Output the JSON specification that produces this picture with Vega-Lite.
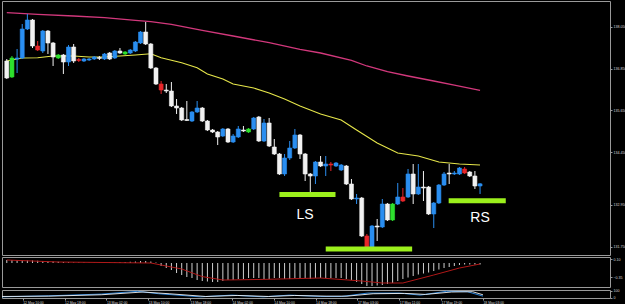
{
  "$schema": "https://vega.github.io/schema/vega-lite/v6.json",
  "background": "#000000",
  "padding": {"left": 1, "top": 0, "right": 0, "bottom": 0},
  "spacing": 0,
  "config": {
    "view": {"stroke": "#9a9a9a", "strokeWidth": 1},
    "axis": {"labelFont": "Liberation Sans", "labelColor": "#d8d8d8", "tickColor": "#9a9a9a", "domain": false, "grid": false, "title": null},
    "text": {"font": "Liberation Sans"}
  },
  "datasets": {
    "candles": [
      {"i":0,"o":137.066,"h":137.123,"l":136.550,"c":136.579,"k":"down"},
      {"i":1,"o":136.608,"h":137.209,"l":136.579,"c":137.152,"k":"green"},
      {"i":2,"o":137.123,"h":137.410,"l":136.722,"c":137.152,"k":"up"},
      {"i":3,"o":137.152,"h":138.126,"l":137.123,"c":137.983,"k":"up"},
      {"i":4,"o":137.983,"h":138.413,"l":137.954,"c":138.241,"k":"up"},
      {"i":5,"o":138.241,"h":138.269,"l":137.438,"c":137.496,"k":"down"},
      {"i":6,"o":137.496,"h":137.639,"l":137.352,"c":137.381,"k":"red"},
      {"i":7,"o":137.352,"h":137.954,"l":137.295,"c":137.925,"k":"up"},
      {"i":8,"o":137.925,"h":137.954,"l":137.267,"c":137.582,"k":"down"},
      {"i":9,"o":137.582,"h":137.610,"l":136.923,"c":137.181,"k":"down"},
      {"i":10,"o":137.152,"h":137.267,"l":137.123,"c":137.238,"k":"green"},
      {"i":11,"o":137.238,"h":137.267,"l":136.694,"c":137.037,"k":"down"},
      {"i":12,"o":137.037,"h":137.524,"l":136.923,"c":137.467,"k":"up"},
      {"i":13,"o":137.467,"h":137.553,"l":137.009,"c":137.066,"k":"down"},
      {"i":14,"o":137.109,"h":137.152,"l":137.037,"c":137.080,"k":"red"},
      {"i":15,"o":137.066,"h":137.152,"l":137.037,"c":137.123,"k":"up"},
      {"i":16,"o":137.095,"h":137.152,"l":137.066,"c":137.123,"k":"up"},
      {"i":17,"o":137.123,"h":137.209,"l":137.095,"c":137.181,"k":"up"},
      {"i":18,"o":137.166,"h":137.209,"l":137.095,"c":137.138,"k":"down"},
      {"i":19,"o":137.123,"h":137.295,"l":137.095,"c":137.267,"k":"up"},
      {"i":20,"o":137.295,"h":137.324,"l":137.095,"c":137.123,"k":"down"},
      {"i":21,"o":137.152,"h":137.381,"l":137.123,"c":137.352,"k":"up"},
      {"i":22,"o":137.352,"h":137.438,"l":137.267,"c":137.295,"k":"down"},
      {"i":23,"o":137.267,"h":137.352,"l":137.238,"c":137.324,"k":"green"},
      {"i":24,"o":137.295,"h":137.410,"l":137.267,"c":137.381,"k":"up"},
      {"i":25,"o":137.352,"h":137.639,"l":137.324,"c":137.610,"k":"up"},
      {"i":26,"o":137.582,"h":137.925,"l":137.553,"c":137.897,"k":"up"},
      {"i":27,"o":137.897,"h":138.183,"l":137.524,"c":137.553,"k":"down"},
      {"i":28,"o":137.553,"h":137.582,"l":136.837,"c":136.865,"k":"down"},
      {"i":29,"o":136.865,"h":136.894,"l":136.378,"c":136.407,"k":"down"},
      {"i":30,"o":136.407,"h":136.493,"l":136.121,"c":136.235,"k":"red"},
      {"i":31,"o":136.235,"h":136.407,"l":136.149,"c":136.206,"k":"down"},
      {"i":32,"o":136.206,"h":136.464,"l":135.748,"c":135.777,"k":"down"},
      {"i":33,"o":135.777,"h":135.977,"l":135.548,"c":135.719,"k":"down"},
      {"i":34,"o":135.719,"h":135.748,"l":135.347,"c":135.376,"k":"down"},
      {"i":35,"o":135.390,"h":135.920,"l":135.347,"c":135.361,"k":"down"},
      {"i":36,"o":135.347,"h":135.633,"l":135.318,"c":135.605,"k":"up"},
      {"i":37,"o":135.605,"h":135.920,"l":135.576,"c":135.719,"k":"up"},
      {"i":38,"o":135.719,"h":135.748,"l":135.318,"c":135.347,"k":"down"},
      {"i":39,"o":135.347,"h":135.376,"l":135.060,"c":135.089,"k":"down"},
      {"i":40,"o":135.089,"h":135.118,"l":135.003,"c":135.032,"k":"down"},
      {"i":41,"o":135.032,"h":135.060,"l":134.659,"c":134.889,"k":"down"},
      {"i":42,"o":134.917,"h":135.146,"l":134.889,"c":135.118,"k":"up"},
      {"i":43,"o":135.118,"h":135.146,"l":134.717,"c":134.745,"k":"down"},
      {"i":44,"o":134.745,"h":134.975,"l":134.717,"c":134.917,"k":"up"},
      {"i":45,"o":134.889,"h":135.204,"l":134.860,"c":135.118,"k":"up"},
      {"i":46,"o":135.089,"h":135.204,"l":135.032,"c":135.060,"k":"down"},
      {"i":47,"o":135.032,"h":135.146,"l":135.003,"c":135.118,"k":"green"},
      {"i":48,"o":135.118,"h":135.462,"l":135.089,"c":135.433,"k":"up"},
      {"i":49,"o":135.462,"h":135.490,"l":134.745,"c":134.774,"k":"down"},
      {"i":50,"o":134.774,"h":135.404,"l":134.745,"c":135.290,"k":"up"},
      {"i":51,"o":135.290,"h":135.433,"l":134.602,"c":134.631,"k":"down"},
      {"i":52,"o":134.602,"h":134.831,"l":134.373,"c":134.402,"k":"down"},
      {"i":53,"o":134.402,"h":134.430,"l":133.800,"c":133.829,"k":"down"},
      {"i":54,"o":133.829,"h":134.402,"l":133.771,"c":134.287,"k":"up"},
      {"i":55,"o":134.287,"h":134.774,"l":134.230,"c":134.573,"k":"up"},
      {"i":56,"o":134.573,"h":135.118,"l":134.545,"c":134.946,"k":"up"},
      {"i":57,"o":134.946,"h":134.975,"l":134.258,"c":134.402,"k":"down"},
      {"i":58,"o":134.402,"h":134.430,"l":133.628,"c":133.829,"k":"down"},
      {"i":59,"o":133.829,"h":133.857,"l":133.284,"c":133.771,"k":"down"},
      {"i":60,"o":133.771,"h":134.201,"l":133.542,"c":134.172,"k":"up"},
      {"i":61,"o":134.172,"h":134.344,"l":134.029,"c":134.058,"k":"down"},
      {"i":62,"o":134.058,"h":134.344,"l":133.771,"c":134.115,"k":"up"},
      {"i":63,"o":134.115,"h":134.172,"l":133.914,"c":134.086,"k":"red"},
      {"i":64,"o":134.058,"h":134.172,"l":134.029,"c":134.144,"k":"up"},
      {"i":65,"o":133.943,"h":134.115,"l":133.914,"c":134.086,"k":"up"},
      {"i":66,"o":134.058,"h":134.086,"l":133.513,"c":133.542,"k":"down"},
      {"i":67,"o":133.542,"h":133.685,"l":133.084,"c":133.112,"k":"down"},
      {"i":68,"o":133.112,"h":133.256,"l":132.969,"c":133.141,"k":"up"},
      {"i":69,"o":133.141,"h":133.170,"l":132.024,"c":132.052,"k":"down"},
      {"i":70,"o":132.052,"h":132.110,"l":131.680,"c":131.708,"k":"red"},
      {"i":71,"o":131.708,"h":132.367,"l":131.680,"c":132.339,"k":"up"},
      {"i":72,"o":132.339,"h":132.539,"l":131.909,"c":132.310,"k":"down"},
      {"i":73,"o":132.310,"h":133.112,"l":132.281,"c":132.969,"k":"up"},
      {"i":74,"o":132.969,"h":132.998,"l":132.482,"c":132.511,"k":"down"},
      {"i":75,"o":132.511,"h":132.998,"l":132.482,"c":132.969,"k":"green"},
      {"i":76,"o":132.969,"h":133.571,"l":132.940,"c":133.170,"k":"up"},
      {"i":77,"o":133.170,"h":133.427,"l":133.026,"c":133.055,"k":"red"},
      {"i":78,"o":133.170,"h":133.972,"l":133.141,"c":133.829,"k":"up"},
      {"i":79,"o":133.829,"h":134.115,"l":132.969,"c":133.256,"k":"down"},
      {"i":80,"o":133.256,"h":134.115,"l":133.227,"c":133.456,"k":"up"},
      {"i":81,"o":133.456,"h":133.914,"l":133.055,"c":133.427,"k":"down"},
      {"i":82,"o":133.456,"h":133.485,"l":132.654,"c":132.683,"k":"down"},
      {"i":83,"o":132.683,"h":133.026,"l":132.281,"c":132.998,"k":"up"},
      {"i":84,"o":132.998,"h":133.542,"l":132.969,"c":133.513,"k":"up"},
      {"i":85,"o":133.513,"h":133.886,"l":133.485,"c":133.829,"k":"up"},
      {"i":86,"o":133.857,"h":134.115,"l":133.542,"c":133.829,"k":"down"},
      {"i":87,"o":133.829,"h":133.914,"l":133.800,"c":133.857,"k":"up"},
      {"i":88,"o":133.829,"h":134.029,"l":133.800,"c":134.000,"k":"up"},
      {"i":89,"o":133.972,"h":134.029,"l":133.829,"c":133.857,"k":"red"},
      {"i":90,"o":133.886,"h":133.914,"l":133.743,"c":133.771,"k":"down"},
      {"i":91,"o":133.771,"h":133.914,"l":133.399,"c":133.485,"k":"down"},
      {"i":92,"o":133.485,"h":133.571,"l":133.256,"c":133.547,"k":"up"}
    ],
    "emaFast": [
      {"i":0,"p":137.066},{"i":3,"p":137.152},{"i":6,"p":137.160},{"i":9,"p":137.209},{"i":13,"p":137.209},
      {"i":16,"p":137.181},{"i":19,"p":137.181},{"i":22,"p":137.209},{"i":25,"p":137.238},{"i":28,"p":137.275},
      {"i":30,"p":137.160},{"i":34,"p":137.017},{"i":37,"p":136.874},{"i":39,"p":136.694},{"i":42,"p":136.550},
      {"i":44,"p":136.407},{"i":48,"p":136.292},{"i":51,"p":136.149},{"i":54,"p":135.977},{"i":57,"p":135.777},
      {"i":61,"p":135.548},{"i":65,"p":135.376},{"i":68,"p":135.089},{"i":72,"p":134.717},{"i":76,"p":134.430},
      {"i":80,"p":134.344},{"i":84,"p":134.172},{"i":88,"p":134.115},{"i":92,"p":134.086}
    ],
    "emaSlow": [
      {"i":0,"p":138.450},{"i":6,"p":138.404},{"i":13,"p":138.355},{"i":19,"p":138.307},{"i":25,"p":138.232},
      {"i":28,"p":138.192},{"i":32,"p":138.117},{"i":38,"p":137.946},{"i":44,"p":137.782},{"i":51,"p":137.590},
      {"i":57,"p":137.401},{"i":61,"p":137.295},{"i":67,"p":137.086},{"i":70,"p":136.923},{"i":74,"p":136.759},
      {"i":78,"p":136.636},{"i":83,"p":136.493},{"i":87,"p":136.378},{"i":92,"p":136.227}
    ],
    "levels": [
      {"i":53.0,"i2":63.9,"p":133.241},
      {"i":62.0,"i2":78.8,"p":131.680},
      {"i":85.9,"i2":97.0,"p":133.064}
    ],
    "marks": [
      {"i":58.0,"p":132.64,"t":"LS"},
      {"i":92.0,"p":132.57,"t":"RS"}
    ],
    "macd": [
      {"i":0,"m":0.075},{"i":1,"m":0.075},{"i":2,"m":0.07},{"i":3,"m":0.07},{"i":4,"m":0.065},{"i":5,"m":0.06},{"i":6,"m":0.055},{"i":7,"m":0.05},{"i":8,"m":0.045},{"i":9,"m":0.04},
      {"i":10,"m":0.03},{"i":11,"m":0.025},{"i":12,"m":0.02},{"i":13,"m":0.015},{"i":14,"m":0.01},{"i":15,"m":0.01},{"i":16,"m":0.005},{"i":17,"m":0.005},{"i":18,"m":0.005},{"i":19,"m":0.01},
      {"i":20,"m":0.01},{"i":21,"m":0.015},{"i":22,"m":0.02},{"i":23,"m":0.025},{"i":24,"m":0.03},{"i":25,"m":0.04},{"i":26,"m":0.05},{"i":27,"m":0.05},{"i":28,"m":0.04},{"i":29,"m":0.01},
      {"i":30,"m":-0.075},{"i":31,"m":-0.125},{"i":32,"m":-0.175},{"i":33,"m":-0.25},{"i":34,"m":-0.3},{"i":35,"m":-0.35},{"i":36,"m":-0.375},{"i":37,"m":-0.425},{"i":38,"m":-0.45},{"i":39,"m":-0.46},
      {"i":40,"m":-0.475},{"i":41,"m":-0.475},{"i":42,"m":-0.45},{"i":43,"m":-0.425},{"i":44,"m":-0.425},{"i":45,"m":-0.4},{"i":46,"m":-0.4},{"i":47,"m":-0.375},{"i":48,"m":-0.375},{"i":49,"m":-0.375},
      {"i":50,"m":-0.4},{"i":51,"m":-0.4},{"i":52,"m":-0.375},{"i":53,"m":-0.375},{"i":54,"m":-0.4},{"i":55,"m":-0.4},{"i":56,"m":-0.375},{"i":57,"m":-0.375},{"i":58,"m":-0.375},{"i":59,"m":-0.4},
      {"i":60,"m":-0.375},{"i":61,"m":-0.375},{"i":62,"m":-0.375},{"i":63,"m":-0.375},{"i":64,"m":-0.375},{"i":65,"m":-0.375},{"i":66,"m":-0.4},{"i":67,"m":-0.425},{"i":68,"m":-0.475},{"i":69,"m":-0.525},
      {"i":70,"m":-0.575},{"i":71,"m":-0.575},{"i":72,"m":-0.5625},{"i":73,"m":-0.55},{"i":74,"m":-0.525},{"i":75,"m":-0.5},{"i":76,"m":-0.45},{"i":77,"m":-0.4},{"i":78,"m":-0.3625},{"i":79,"m":-0.325},
      {"i":80,"m":-0.2875},{"i":81,"m":-0.2625},{"i":82,"m":-0.2375},{"i":83,"m":-0.2},{"i":84,"m":-0.1625},{"i":85,"m":-0.125},{"i":86,"m":-0.1},{"i":87,"m":-0.075},{"i":88,"m":-0.05},{"i":89,"m":-0.04},
      {"i":90,"m":-0.04},{"i":91,"m":-0.035},{"i":92,"m":-0.035}
    ],
    "signal": [
      {"i":0,"s":0.075},{"i":10,"s":0.025},{"i":28,"s":0.0},{"i":34,"s":-0.15},{"i":38,"s":-0.34},{"i":42,"s":-0.425},
      {"i":50,"s":-0.41},{"i":61,"s":-0.375},{"i":69,"s":-0.45},{"i":73,"s":-0.5},{"i":77,"s":-0.5},{"i":83,"s":-0.3},
      {"i":88,"s":-0.125},{"i":92,"s":-0.025}
    ],
    "stoch": [
      {"i":0,"v":15,"line":"main"},{"i":9,"v":30,"line":"main"},{"i":19,"v":55,"line":"main"},{"i":26,"v":95,"line":"main"},{"i":30,"v":60,"line":"main"},{"i":38,"v":15,"line":"main"},
      {"i":44,"v":40,"line":"main"},{"i":50,"v":15,"line":"main"},{"i":55,"v":40,"line":"main"},{"i":61,"v":20,"line":"main"},{"i":65,"v":20,"line":"main"},{"i":70,"v":70,"line":"main"},
      {"i":76,"v":70,"line":"main"},{"i":80,"v":40,"line":"main"},{"i":85,"v":95,"line":"main"},{"i":89,"v":90,"line":"main"},{"i":92,"v":25,"line":"main"},
      {"i":0,"v":20,"line":"signal"},{"i":9,"v":25,"line":"signal"},{"i":19,"v":45,"line":"signal"},{"i":27,"v":85,"line":"signal"},{"i":32,"v":60,"line":"signal"},{"i":39,"v":20,"line":"signal"},
      {"i":45,"v":35,"line":"signal"},{"i":51,"v":20,"line":"signal"},{"i":56,"v":35,"line":"signal"},{"i":62,"v":25,"line":"signal"},{"i":66,"v":25,"line":"signal"},{"i":71,"v":60,"line":"signal"},
      {"i":77,"v":65,"line":"signal"},{"i":81,"v":50,"line":"signal"},{"i":86,"v":85,"line":"signal"},{"i":90,"v":90,"line":"signal"},{"i":92,"v":45,"line":"signal"}
    ]
  },
  "vconcat": [
    {
      "width": 608,
      "height": 254,
      "layer": [
        {
          "data": {"name": "emaSlow"},
          "mark": {"type": "line", "color": "#d2387c", "strokeWidth": 1.3, "clip": true},
          "encoding": {
            "x": {"field": "i", "type": "quantitative", "scale": {"domain": [0.04, 116.29], "nice": false, "zero": false}, "axis": null},
            "y": {"field": "p", "type": "quantitative", "scale": {"domain": [131.508, 138.785], "nice": false, "zero": false},
                  "axis": {"orient": "right", "values": [138.65,138.35,138.05,137.75,137.45,137.15,136.85,136.55,136.25,135.95,135.65,135.35,135.05,134.75,134.45,134.15,133.85,133.25,132.95,132.65,132.35,132.05,131.75],
                           "format": ".3f", "labelFontSize": 3.6, "tickSize": 2, "labelPadding": 1, "labelOverlap": false}}
          }
        },
        {
          "data": {"name": "emaFast"},
          "mark": {"type": "line", "color": "#e6e64a", "strokeWidth": 1.1, "clip": true},
          "encoding": {
            "x": {"field": "i", "type": "quantitative"},
            "y": {"field": "p", "type": "quantitative"}
          }
        },
        {
          "data": {"name": "candles"},
          "mark": {"type": "rule", "strokeWidth": 1, "clip": true},
          "encoding": {
            "x": {"field": "i", "type": "quantitative"},
            "y": {"field": "l", "type": "quantitative"},
            "y2": {"field": "h"},
            "color": {"field": "k", "type": "nominal", "scale": {"domain": ["up","down","red","green"], "range": ["#2a8ef0","#f2f2f2","#e8262a","#2ee02e"]}, "legend": null}
          }
        },
        {
          "data": {"name": "candles"},
          "mark": {"type": "bar", "size": 4, "strokeWidth": 0.6, "clip": true},
          "encoding": {
            "x": {"field": "i", "type": "quantitative"},
            "y": {"field": "o", "type": "quantitative"},
            "y2": {"field": "c"},
            "color": {"field": "k", "type": "nominal", "legend": null},
            "stroke": {"field": "k", "type": "nominal", "scale": {"domain": ["up","down","red","green"], "range": ["#2a8ef0","#f2f2f2","#e8262a","#2ee02e"]}, "legend": null}
          }
        },
        {
          "data": {"name": "levels"},
          "mark": {"type": "rule", "color": "#9cf01c", "strokeWidth": 5},
          "encoding": {
            "x": {"field": "i", "type": "quantitative"},
            "x2": {"field": "i2"},
            "y": {"field": "p", "type": "quantitative"}
          }
        },
        {
          "data": {"name": "marks"},
          "mark": {"type": "text", "color": "#ffffff", "fontSize": 14, "align": "center", "baseline": "middle", "font": "Liberation Sans"},
          "encoding": {
            "x": {"field": "i", "type": "quantitative"},
            "y": {"field": "p", "type": "quantitative"},
            "text": {"field": "t"}
          }
        },
        {
          "mark": {"type": "text", "text": "GBPJPY,H1  133.485 133.571 133.256 133.547", "color": "#e0e0e0", "fontSize": 3.4, "align": "left", "baseline": "middle"},
          "encoding": {"x": {"datum": 0.2}, "y": {"datum": 138.69}}
        },
        {
          "mark": {"type": "rect", "color": "#ffffff"},
          "encoding": {"x": {"datum": 116.35}, "x2": {"datum": 119.6}, "y": {"datum": 133.617}, "y2": {"datum": 133.482}}
        },
        {
          "mark": {"type": "text", "text": "133.547", "color": "#000000", "fontSize": 3.6, "align": "left", "baseline": "middle"},
          "encoding": {"x": {"datum": 116.85}, "y": {"datum": 133.55}}
        }
      ]
    },
    {
      "width": 608,
      "height": 30,
      "layer": [
        {
          "data": {"name": "macd"},
          "mark": {"type": "bar", "size": 1, "color": "#d0d0d0", "clip": true},
          "encoding": {
            "x": {"field": "i", "type": "quantitative", "scale": {"domain": [0.04, 116.29], "nice": false, "zero": false}, "axis": null},
            "y": {"field": "m", "type": "quantitative", "scale": {"domain": [-0.6, 0.15], "nice": false, "zero": false},
                  "axis": {"orient": "right", "values": [0.1, 0, -0.35], "format": ".2f", "labelFontSize": 3.6, "tickSize": 2, "labelPadding": 1, "labelOverlap": false}},
            "y2": {"datum": 0}
          }
        },
        {
          "data": {"name": "signal"},
          "mark": {"type": "line", "color": "#b01818", "strokeWidth": 1, "clip": true},
          "encoding": {
            "x": {"field": "i", "type": "quantitative"},
            "y": {"field": "s", "type": "quantitative"}
          }
        },
        {
          "mark": {"type": "text", "text": "MACD(12,26,9) -0.0350 -0.0250", "color": "#e0e0e0", "fontSize": 3.4, "align": "left", "baseline": "middle"},
          "encoding": {"x": {"datum": 0.2}, "y": {"datum": 0.07}}
        }
      ]
    },
    {
      "width": 608,
      "height": 8,
      "layer": [
        {
          "data": {"name": "stoch"},
          "mark": {"type": "line", "strokeWidth": 0.9, "clip": true},
          "encoding": {
            "x": {"field": "i", "type": "quantitative", "scale": {"domain": [0.04, 116.29], "nice": false, "zero": false},
                  "axis": {"orient": "bottom", "values": [0,4,8,12,16,20,24,28,32,36,40,44,48,52,56,60,64,68,72,76,80,84,88,92],
                           "labelExpr": "['12 May 2010','12 May 10:00','12 May 14:00','12 May 18:00','12 May 22:00','13 May 02:00','13 May 06:00','13 May 10:00','13 May 14:00','13 May 18:00','13 May 22:00','14 May 02:00','14 May 06:00','14 May 10:00','14 May 14:00','14 May 18:00','14 May 22:00','17 May 03:00','17 May 07:00','17 May 11:00','17 May 15:00','17 May 19:00','17 May 23:00','18 May 03:00'][round(datum.value / 4)]",
                           "labelAlign": "left", "labelBaseline": "top", "labelFontSize": 3.4, "tickSize": 2, "labelPadding": 0, "labelOverlap": false, "labelBound": false, "labelFlush": false}},
            "y": {"field": "v", "type": "quantitative", "scale": {"domain": [-2, 114.3], "nice": false, "zero": false},
                  "axis": {"orient": "right", "values": [100, 0], "labelFontSize": 3.6, "tickSize": 2, "labelPadding": 1, "labelOverlap": false}},
            "color": {"field": "line", "type": "nominal", "scale": {"domain": ["main","signal"], "range": ["#2f7f68","#a82222"]}, "legend": null}
          }
        },
        {
          "mark": {"type": "text", "text": "Stoch(5,3,3) 28.4920 41.2336", "color": "#e0e0e0", "fontSize": 3.4, "align": "left", "baseline": "middle"},
          "encoding": {"x": {"datum": 0.2}, "y": {"datum": 80}}
        },
        {
          "mark": {"type": "text", "text": "MetaTrader - Alpari UK, © 2001-2009 MetaQuotes Software Corp.", "color": "#e0e0e0", "fontSize": 3.4, "align": "left", "baseline": "middle"},
          "encoding": {"x": {"datum": 0.2}, "y": {"datum": 20}}
        }
      ]
    }
  ]
}
